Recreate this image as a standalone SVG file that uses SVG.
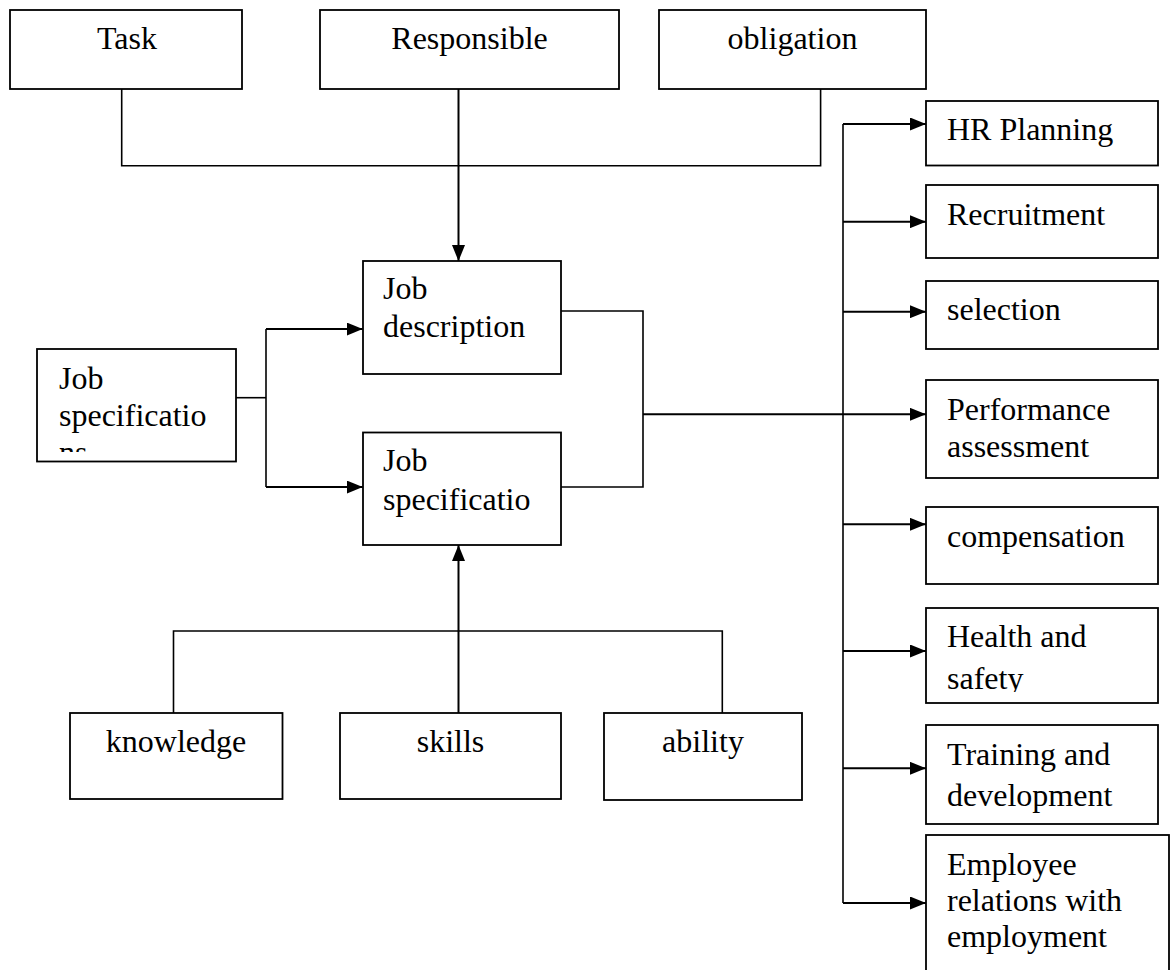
<svg xmlns="http://www.w3.org/2000/svg" width="1176" height="970" viewBox="0 0 1176 970">
  <defs>
    <marker id="arrow" markerUnits="userSpaceOnUse" markerWidth="16" markerHeight="13" refX="16" refY="6.5" orient="auto">
      <path d="M0,0 L16,6.5 L0,13 z" fill="#000"/>
    </marker>
    <clipPath id="clip-spec-left"><rect x="37" y="349" width="199" height="103"/></clipPath>
    <clipPath id="clip-health"><rect x="926" y="608" width="232" height="84"/></clipPath>
  </defs>
  <style>
    .box{fill:#fff;stroke:#000;stroke-width:1.8}
    .lbl{font-family:"Liberation Serif","Times New Roman",serif;font-size:32px;fill:#000}
    .mid{text-anchor:middle}
    .wire{fill:none;stroke:#000;stroke-width:1.6}
    .flow{fill:none;stroke:#000;stroke-width:2;marker-end:url(#arrow)}
  </style>
  <rect width="1176" height="970" fill="#fff"/>

  <!-- connectors -->
  <g id="connectors">
    <!-- top row into job description -->
    <path class="wire" d="M121.7,89 V165.7 H820.6 V89"/>
    <path class="flow" d="M458.5,89 V261"/>
    <!-- job specifications split -->
    <path class="wire" d="M236,397.7 H266"/>
    <path class="wire" d="M266,329 V487"/>
    <path class="flow" d="M266,329 H362.7"/>
    <path class="flow" d="M266,487 H362.7"/>
    <!-- merge to HR functions -->
    <path class="wire" d="M561,311 H643 V487 H561"/>
    <path class="flow" d="M643,414.3 H926"/>
    <!-- HR function spine -->
    <path class="wire" d="M843,124 V903"/>
    <path class="flow" d="M843,124 H926"/>
    <path class="flow" d="M843,221.7 H926"/>
    <path class="flow" d="M843,311.7 H926"/>
    <path class="flow" d="M843,524.3 H926"/>
    <path class="flow" d="M843,651 H926"/>
    <path class="flow" d="M843,768.3 H926"/>
    <path class="flow" d="M843,903 H926"/>
    <!-- KSA into job specification -->
    <path class="wire" d="M173.5,713 V631 H722.3 V713"/>
    <path class="flow" d="M458.5,713 V545"/>
  </g>

  <!-- top row -->
  <g id="task"><rect class="box" x="10" y="10" width="232" height="79"/><text class="lbl mid" x="127" y="49">Task</text></g>
  <g id="responsible"><rect class="box" x="320" y="10" width="299" height="79"/><text class="lbl mid" x="469.5" y="49">Responsible</text></g>
  <g id="obligation"><rect class="box" x="659" y="10" width="267" height="79"/><text class="lbl mid" x="792.5" y="49">obligation</text></g>

  <!-- middle -->
  <g id="job-specifications">
    <rect class="box" x="37" y="349" width="199" height="112.5"/>
    <g clip-path="url(#clip-spec-left)">
      <text class="lbl" x="59" y="389">Job</text>
      <text class="lbl" x="59" y="426">specificatio</text>
      <text class="lbl" x="59" y="463">ns</text>
    </g>
  </g>
  <g id="job-description">
    <rect class="box" x="363" y="261" width="198" height="113"/>
    <text class="lbl" x="383" y="299">Job</text>
    <text class="lbl" x="383" y="337">description</text>
  </g>
  <g id="job-specification">
    <rect class="box" x="363" y="432.5" width="198" height="112.5"/>
    <text class="lbl" x="383" y="471">Job</text>
    <text class="lbl" x="383" y="510">specificatio</text>
  </g>

  <!-- bottom row -->
  <g id="knowledge"><rect class="box" x="70" y="713" width="212.5" height="86"/><text class="lbl mid" x="176" y="752">knowledge</text></g>
  <g id="skills"><rect class="box" x="340" y="713" width="221" height="86"/><text class="lbl mid" x="450.5" y="752">skills</text></g>
  <g id="ability"><rect class="box" x="604" y="713" width="198" height="87"/><text class="lbl mid" x="703" y="752">ability</text></g>

  <!-- HR functions -->
  <g id="hr-planning"><rect class="box" x="926" y="101" width="232" height="64.5"/><text class="lbl" x="947" y="140">HR Planning</text></g>
  <g id="recruitment"><rect class="box" x="926" y="185" width="232" height="73"/><text class="lbl" x="947" y="225">Recruitment</text></g>
  <g id="selection"><rect class="box" x="926" y="281" width="232" height="68"/><text class="lbl" x="947" y="320">selection</text></g>
  <g id="performance"><rect class="box" x="926" y="380" width="232" height="98"/><text class="lbl" x="947" y="420">Performance</text><text class="lbl" x="947" y="457">assessment</text></g>
  <g id="compensation"><rect class="box" x="926" y="507" width="232" height="77"/><text class="lbl" x="947" y="547">compensation</text></g>
  <g id="health-safety">
    <rect class="box" x="926" y="608" width="232" height="95"/>
    <g clip-path="url(#clip-health)"><text class="lbl" x="947" y="647">Health and</text><text class="lbl" x="947" y="689">safety</text></g>
  </g>
  <g id="training"><rect class="box" x="926" y="725" width="232" height="99"/><text class="lbl" x="947" y="765">Training and</text><text class="lbl" x="947" y="806">development</text></g>
  <g id="employee-relations">
    <rect class="box" x="926" y="835" width="243" height="140"/>
    <text class="lbl" x="947" y="875">Employee</text>
    <text class="lbl" x="947" y="911">relations with</text>
    <text class="lbl" x="947" y="947">employment</text>
  </g>
</svg>
